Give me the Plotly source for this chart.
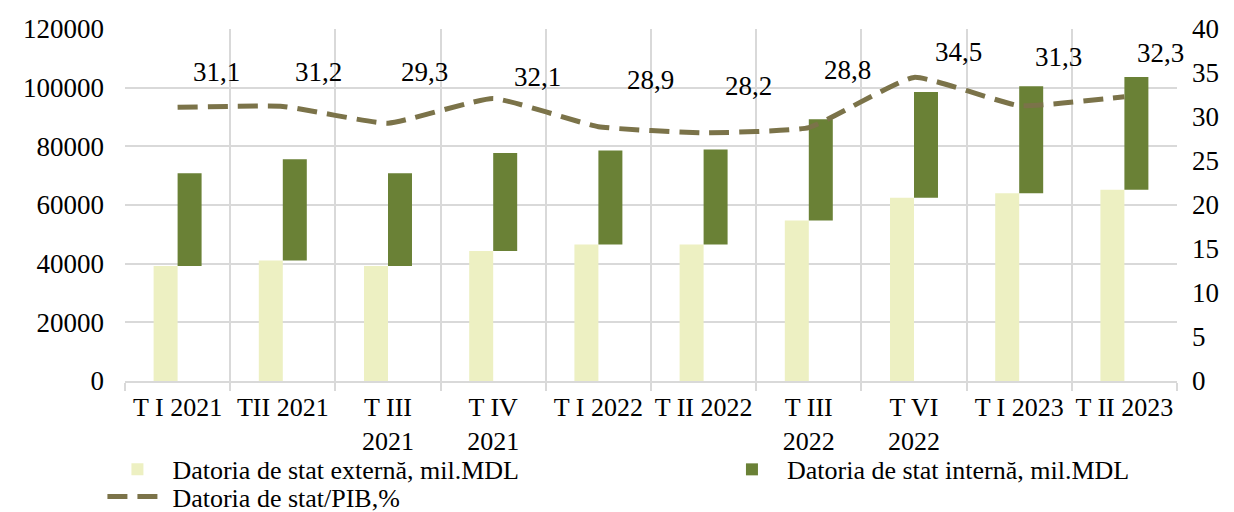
import plotly.graph_objects as go

# ---- data ----
categories = ["T I 2021", "TII 2021", "T III<br>2021", "T IV<br>2021", "T I 2022",
              "T II 2022", "T III<br>2022", "T VI<br>2022", "T I 2023", "T II 2023"]
external_debt = [39200, 41100, 39200, 44300, 46500, 46500, 54700, 62500, 64000, 65200]
internal_debt = [31600, 34500, 31600, 33400, 32100, 32400, 34500, 36000, 36500, 38400]
debt_to_gdp = [31.1, 31.2, 29.3, 32.1, 28.9, 28.2, 28.8, 34.5, 31.3, 32.3]

# ---- style ----
FONT = "'Liberation Serif', 'Times New Roman', 'DejaVu Serif', serif"
FS = 27
XFS = 26
LFS = 26
C_EXT = "#EDF0C2"
C_INT = "#6A8136"
C_LINE = "#7B7349"
GRID = "#D9D9D9"
BAR_W = 0.228
LABEL_DX = [39, 36, 36, 44, 52, 45, 39, 44, 39, 36]
LABEL_DY = [35, 34, 51, 22, 47, 47, 58, 25, 49, 44]

fig = go.Figure()
fig.add_trace(go.Bar(
    x=categories, y=external_debt, name="Datoria de stat externă, mil.MDL",
    marker=dict(color=C_EXT, line=dict(width=0)),
    width=BAR_W, offset=-BAR_W, legend="legend",
))
fig.add_trace(go.Bar(
    x=categories, y=internal_debt, base=external_debt,
    name="Datoria de stat internă, mil.MDL",
    marker=dict(color=C_INT, line=dict(width=0)),
    width=BAR_W, offset=0, legend="legend2",
))
fig.add_trace(go.Scatter(
    x=categories, y=debt_to_gdp, yaxis="y2", mode="lines",
    name="Datoria de stat/PIB,%", legend="legend3",
    line=dict(color=C_LINE, width=5, dash="20px,10px", shape="spline", smoothing=0.4),
))

for i, (c, v) in enumerate(zip(categories, debt_to_gdp)):
    fig.add_annotation(
        x=c, y=v, xref="x", yref="y2", text=f"{v:.1f}".replace(".", ","),
        showarrow=False, xshift=LABEL_DX[i], yshift=LABEL_DY[i],
        font=dict(family=FONT, size=FS, color="#000000"),
    )

legend_common = dict(
    orientation="v", xref="container", yref="container",
    xanchor="left", yanchor="top",
    font=dict(family=FONT, size=LFS, color="#000000"),
    traceorder="normal", tracegroupgap=0, itemsizing="constant",
    bgcolor="rgba(0,0,0,0)", itemwidth=60,
)

fig.update_layout(
    width=1234, height=512,
    margin=dict(l=125, r=57, t=29, b=131, autoexpand=False),
    paper_bgcolor="white", plot_bgcolor="white",
    barmode="overlay",
    font=dict(family=FONT, size=FS, color="#000000"),
    showlegend=True,
    legend=dict(x=0.083, y=0.129, **legend_common),
    legend2=dict(x=0.581, y=0.129, **legend_common),
    legend3=dict(x=0.083, y=0.076, **legend_common),
    xaxis=dict(
        type="category", tickson="boundaries", showgrid=True, gridcolor=GRID, gridwidth=1.5,
        ticks="outside", ticklen=8, tickcolor=GRID, tickwidth=1.5, tickangle=0,
        showline=True, linecolor=GRID, linewidth=1.5,
        tickfont=dict(family=FONT, size=XFS), ticklabelstandoff=2,
        range=[-0.5, len(categories) - 0.5],
    ),
    yaxis=dict(
        range=[0, 120000], dtick=20000, showgrid=True, gridcolor=GRID, gridwidth=1.5,
        zeroline=False, showline=False, ticks="", tickfont=dict(family=FONT, size=FS),
        ticklabelstandoff=20, tickformat="d",
    ),
    yaxis2=dict(
        range=[0, 40], dtick=5, overlaying="y", side="right", showgrid=False,
        zeroline=False, showline=False, ticks="", tickfont=dict(family=FONT, size=FS),
        ticklabelstandoff=14,
    ),
)

fig.write_html(
    "out.html",
    config={"displayModeBar": False},
    post_script="document.body.style.margin='0';document.body.style.overflow='hidden';",
)
